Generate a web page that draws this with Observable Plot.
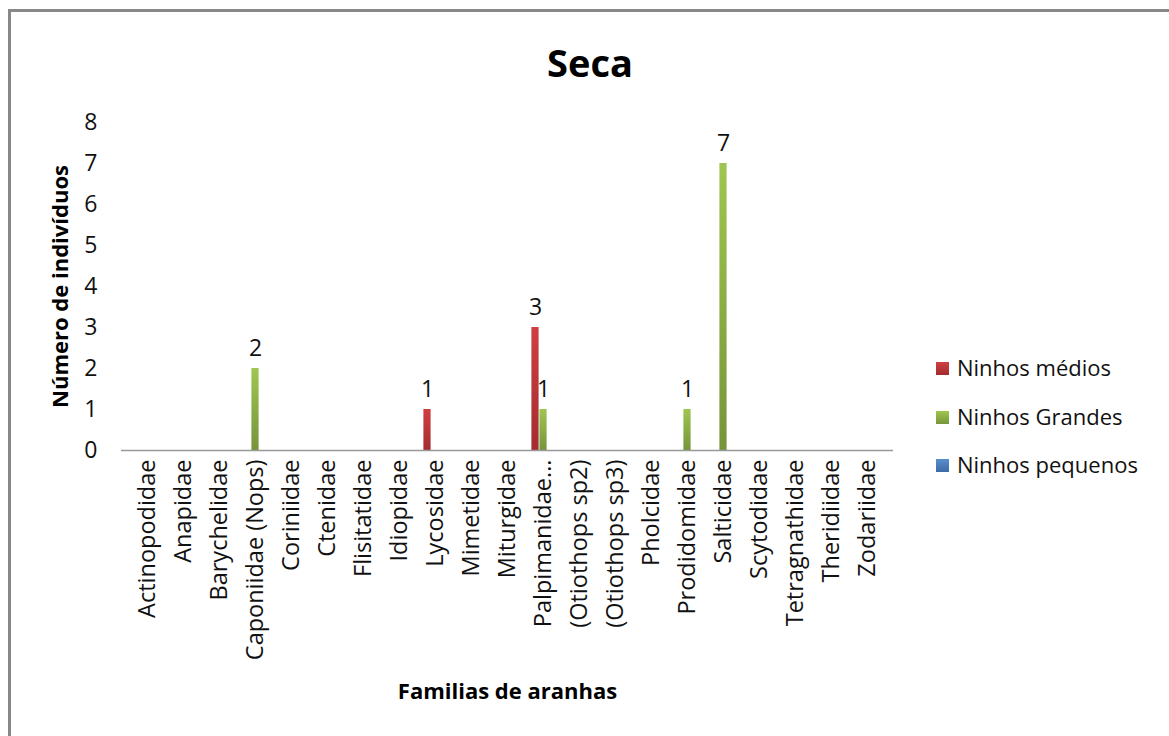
<!DOCTYPE html>
<html>
<head>
<meta charset="utf-8">
<script src="https://cdn.jsdelivr.net/npm/d3@7"></script>
<script src="https://cdn.jsdelivr.net/npm/@observablehq/plot@0.6"></script>
<style>
  html, body { margin: 0; padding: 0; background: #fff; }
  #wrap { position: relative; width: 1169px; height: 736px; overflow: hidden; font-family: "Open Sans", sans-serif; }
  #frame { position: absolute; left: 8px; top: 9px; width: 1200px; height: 800px; border-left: 3px solid #888; border-top: 3px solid #888; }
  #chart { position: absolute; left: 0; top: 0; }
  #title { position: absolute; left: 0; width: 1180px; top: 36px; text-align: center; font-weight: bold; font-size: 38px; color: #000; }
  #legend { position: absolute; left: 936px; top: 352px; font-size: 22px; color: #111; }
  .li { height: 48.5px; display: flex; align-items: flex-start; }
  .sw { width: 13px; height: 13px; margin-right: 8px; margin-top: 10px; }
</style>
</head>
<body>
<div id="wrap">
  <div id="frame"></div>
  <div id="chart"></div>
  <div id="title">Seca</div>
  <div id="legend"></div>
</div>
<script>
const familias = ["Actinopodidae","Anapidae","Barychelidae","Caponiidae (Nops)","Coriniidae","Ctenidae","Flisitatidae","Idiopidae","Lycosidae","Mimetidae","Miturgidae","Palpimanidae...","(Otiothops sp2)","(Otiothops sp3)","Pholcidae","Prodidomidae","Salticidae","Scytodidae","Tetragnathidae","Theridiidae","Zodariidae"];
const series = ["Ninhos médios","Ninhos Grandes","Ninhos pequenos"];
const medios   = [0,0,0,0,0,0,0,0,1,0,0,3,0,0,0,0,0,0,0,0,0];
const grandes  = [0,0,0,2,0,0,0,0,0,0,0,1,0,0,0,1,7,0,0,0,0];
const pequenos = [0,0,0,0,0,0,0,0,0,0,0,0,0,0,0,0,0,0,0,0,0];
const yTicks = [0,1,2,3,4,5,6,7,8];

const gradIds = ["gR","gG","gB"];
const gradStops = [["#d03f42","#a22d30"],["#9fc650","#76953a"],["#5a8fd0","#3d6aa3"]];
const offsets = [-8, 0, 8];

const valuesBySeries = [medios, grandes, pequenos];
const seriesRows = valuesBySeries.map((vals, j) =>
  familias.map((f, i) => ({familia: f, serie: series[j], valor: vals[i]})).filter(d => d.valor > 0)
);

const font = "'Open Sans', sans-serif";
const marks = [];
seriesRows.forEach((rows, j) => {
  marks.push(Plot.barY(rows, {x: "familia", y: "valor", fill: `url(#${gradIds[j]})`, insetLeft: 14.4, insetRight: 14.4, dx: offsets[j]}));
  marks.push(Plot.text(rows, {x: "familia", y: "valor", text: d => String(d.valor), dx: offsets[j], dy: -13, lineAnchor: "bottom", fill: "#111", fontSize: 23}));
});

const plot = Plot.plot({
  width: 1169,
  height: 736,
  marginLeft: 121,
  marginRight: 276,
  marginTop: 122,
  marginBottom: 286,
  style: {fontFamily: font, fontSize: "23px", color: "#111", background: "transparent"},
  x: {domain: familias, padding: 0, label: null},
  y: {domain: [0, 8], label: null},
  marks: [
    ...marks,
    Plot.axisX({tickSize: 0, tickPadding: 9, tickRotate: -90, label: null, fontSize: 23.5, fill: "#111"}),
    Plot.axisY({ticks: yTicks, tickSize: 0, tickPadding: 24, label: null, fontSize: 23, fill: "#111", tickFormat: d3.format("d")}),
    Plot.ruleX([0], {stroke: "#999", strokeWidth: 1.5, frameAnchor: "left"}),
    Plot.ruleY([0], {stroke: "#999", strokeWidth: 1.5}),
    Plot.text(["Número de indivíduos"], {frameAnchor: "left", textAnchor: "middle", dx: -61, rotate: -90, fontWeight: "bold", fontSize: 22, fill: "#000"}),
    Plot.text(["Familias de aranhas"], {frameAnchor: "bottom", textAnchor: "middle", dy: 248, fontWeight: "bold", fontSize: 22, fill: "#000"})
  ]
});

// gradients for the Excel-like shaded columns
const svgNS = "http://www.w3.org/2000/svg";
const defs = document.createElementNS(svgNS, "defs");
gradIds.forEach((id, k) => {
  const g = document.createElementNS(svgNS, "linearGradient");
  g.setAttribute("id", id);
  g.setAttribute("x1", "0"); g.setAttribute("y1", "0");
  g.setAttribute("x2", "0"); g.setAttribute("y2", "1");
  gradStops[k].forEach((c, m) => {
    const s = document.createElementNS(svgNS, "stop");
    s.setAttribute("offset", m === 0 ? "0" : "1");
    s.setAttribute("stop-color", c);
    g.appendChild(s);
  });
  defs.appendChild(g);
});
plot.insertBefore(defs, plot.firstChild);
document.getElementById("chart").appendChild(plot);

// legend
const legend = document.getElementById("legend");
series.forEach((s, j) => {
  const li = document.createElement("div");
  li.className = "li";
  const sw = document.createElement("div");
  sw.className = "sw";
  sw.style.background = `linear-gradient(${gradStops[j][0]}, ${gradStops[j][1]})`;
  const t = document.createElement("span");
  t.textContent = s;
  li.appendChild(sw); li.appendChild(t);
  legend.appendChild(li);
});
</script>
</body>
</html>
